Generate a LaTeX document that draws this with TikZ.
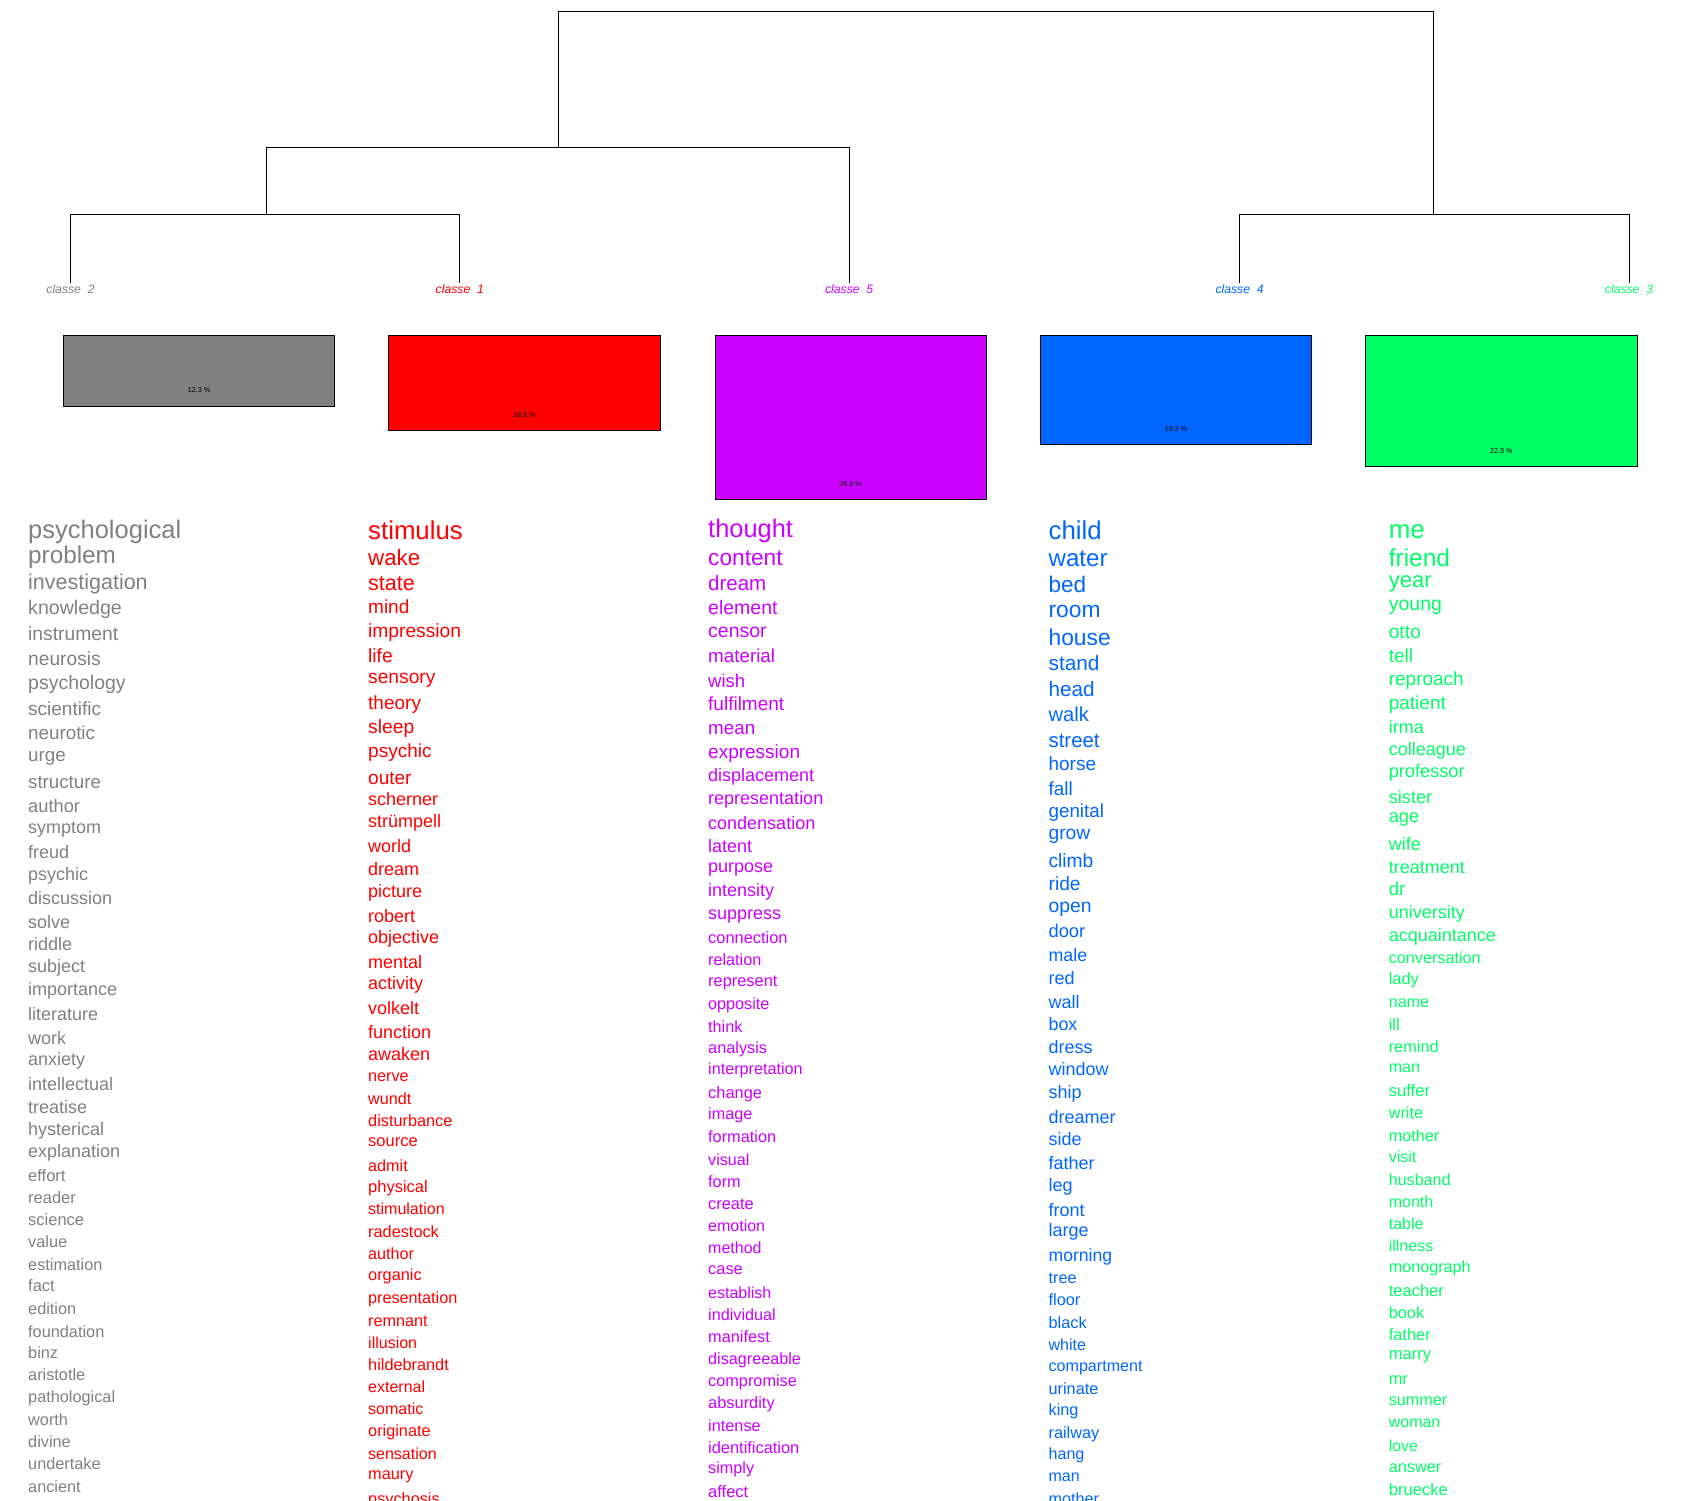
\documentclass[tikz,border=0pt]{standalone}
\usepackage{fontspec}
\setmainfont{Liberation Sans}
\definecolor{cgray}{HTML}{808080}
\definecolor{cred}{HTML}{FF0000}
\definecolor{cpurple}{HTML}{CC00FF}
\definecolor{cblue}{HTML}{0066FF}
\definecolor{cgreen}{HTML}{00FF66}
\begin{document}
\begin{tikzpicture}[x=1pt,y=-1pt,
  word/.style={anchor=west, inner sep=0pt, text height=#1*0.716pt, text depth=0pt,
    font=\fontsize{#1}{#1}\selectfont},
  clslab/.style={inner sep=1pt, font=\fontsize{12.2}{12.2}\selectfont\itshape},
  clsbox/.style={draw=black, line width=0.8pt, anchor=north west, minimum width=271.5pt, inner sep=0pt},
  pct/.style={inner sep=0pt, text=black, font=\fontsize{7.2}{7.2}\selectfont},
  tree/.style={draw=black, line width=0.9pt}]
\useasboundingbox (0,0) rectangle (1700,1500);
\clip (0,0) rectangle (1700,1500);

% class labels
\node[clslab, text=cgray]   (lab2) at (70.5,289)  {classe\ \ 2};
\node[clslab, text=cred]    (lab1) at (459.8,289) {classe\ \ 1};
\node[clslab, text=cpurple] (lab5) at (849.2,289) {classe\ \ 5};
\node[clslab, text=cblue]   (lab4) at (1239.6,289) {classe\ \ 4};
\node[clslab, text=cgreen]  (lab3) at (1629,289)  {classe\ \ 3};

% dendrogram
\coordinate (m12) at (266.7,214.7);
\coordinate (m125) at (558.4,147.5);
\coordinate (m34) at (1433.3,214.7);
\coordinate (top) at (996,11.9);
\draw[tree] (lab2.north) |- (m12) -| (lab1.north);
\draw[tree] (m12) |- (m125) -| (lab5.north);
\draw[tree] (m125) |- (top) -| (m34);
\draw[tree] (lab4.north) |- (m34) -| (lab3.north);

% boxes
\node[clsbox, fill=cgray,   minimum height=70.5pt]  (box2) at (62.9,335) {};
\node[clsbox, fill=cred,    minimum height=95.4pt]  (box1) at (388.2,335) {};
\node[clsbox, fill=cpurple, minimum height=164.3pt] (box5) at (714.5,335) {};
\node[clsbox, fill=cblue,   minimum height=109.3pt] (box4) at (1039.8,335) {};
\node[clsbox, fill=cgreen,  minimum height=131.2pt] (box3) at (1365.1,335) {};
\node[pct] (p2) at ([yshift=16pt]box2.south) {12.3 \%};
\node[pct] (p1) at ([yshift=16pt]box1.south) {18.8 \%};
\node[pct] (p5) at ([yshift=16pt]box5.south) {26.8 \%};
\node[pct] (p4) at ([yshift=16pt]box4.south) {19.2 \%};
\node[pct] (p3) at ([yshift=16pt]box3.south) {22.9 \%};

% word lists
\foreach \wy/\ws/\wt [count=\i] in {
529/25.5/psychological, 555/24.3/problem, 582/21.5/investigation, 607/19.6/knowledge,
634/19.3/instrument, 659/19.2/neurosis, 683/19.5/psychology, 709/19/scientific,
733/18.8/neurotic, 754.6/18.8/urge, 781.7/18.7/structure, 805.6/18.3/author,
827.2/18/symptom, 852.2/18/freud, 873.9/18/psychic, 897.7/18/discussion,
921.6/18/solve, 944.3/18/riddle, 966/18/subject, 988.8/18/importance,
1013.7/18/literature, 1037.6/18/work, 1059.3/18/anxiety, 1084.2/18/intellectual,
1107/18/treatise, 1128.7/18/hysterical, 1151.4/18/explanation, 1175.3/16.5/effort,
1198/16.5/reader, 1219.7/16.5/science, 1241.4/16.3/value, 1264.2/16.3/estimation,
1285.9/16.5/fact, 1308.6/16.3/edition, 1331.4/16.3/foundation, 1353.1/16.3/binz,
1374.8/16.3/aristotle, 1396.4/16.3/pathological, 1419.2/16.3/worth, 1442/16.3/divine,
1463.7/16.3/undertake, 1486.4/16.3/ancient}
  \node[word=\ws, text=cgray] (g\i) at (28,\wy) {\wt};

\foreach \wy/\ws/\wt [count=\i] in {
530/25.8/stimulus, 557.4/22.3/wake, 582.9/21.5/state, 607.1/19/mind,
630.7/19.2/impression, 656/19.2/life, 676.7/19.2/sensory, 702.2/19/theory,
726.4/19.3/sleep, 750.6/19/psychic, 777.4/19/outer, 799/18/scherner,
820.8/18/strümpell, 846.3/18/world, 868.6/18/dream, 891/18/picture,
915.8/18/robert, 937.5/18/objective, 962.4/18/mental, 983.4/18/activity,
1008.3/18/volkelt, 1031.9/18/function, 1053.6/18/awaken, 1075.3/16.2/nerve,
1098.2/16.2/wundt, 1120.5/16.3/disturbance, 1140.9/16.5/source, 1165.2/16.2/admit,
1186.2/16.5/physical, 1209.2/16/stimulation, 1231.5/16.3/radestock, 1253.8/16.2/author,
1274.9/16.3/organic, 1297.2/16.2/presentation, 1320.8/16.2/remnant, 1343.1/16/illusion,
1364.8/16.3/hildebrandt, 1387.1/16/external, 1408.8/16/somatic, 1430.5/16.3/originate,
1454/16/sensation, 1473.2/16.3/maury, 1499/16.3/psychosis}
  \node[word=\ws, text=cred] (r\i) at (368,\wy) {\wt};

\foreach \wy/\ws/\wt [count=\i] in {
528.7/25.4/thought, 557.4/22.7/content, 582.9/20.5/dream, 607.1/19.5/element,
630.7/19.5/censor, 656.2/18.8/material, 681.1/18.5/wish, 704.1/19/fulfilment,
727.7/18.8/mean, 751.9/19/expression, 775.5/18/displacement, 797.8/18/representation,
822.7/18/condensation, 846.3/18/latent, 866.1/18/purpose, 890.3/18/intensity,
912.6/18/suppress, 938.1/16.4/connection, 959.8/16.2/relation, 980.9/16.4/represent,
1003.2/16.2/opposite, 1026.8/16.2/think, 1047.2/16.3/analysis, 1068.9/16.2/interpretation,
1092.5/16.4/change, 1114.1/16.2/image, 1136.5/16.3/formation, 1159.4/16.1/visual,
1181.8/16.3/form, 1204.1/16.4/create, 1225.8/16/emotion, 1247.4/16/method,
1269.1/16.4/case, 1292.7/16/establish, 1314.4/16.2/individual, 1336.7/16.3/manifest,
1358.4/16.2/disagreeable, 1380.7/16.3/compromise, 1402.4/16.4/absurdity, 1425.4/16.3/intense,
1447.7/16.4/identification, 1468.1/16.2/simply, 1491.1/16.5/affect}
  \node[word=\ws, text=cpurple] (v\i) at (708,\wy) {\wt};

\foreach \wy/\ws/\wt [count=\i] in {
530/25.8/child, 557.4/24.1/water, 584.2/22.5/bed, 609.7/22.8/room,
637.1/22.8/house, 663.3/20.8/stand, 689.4/20.7/head, 714.3/20.2/walk,
739.8/20.4/street, 764/19/horse, 788.3/19/fall, 810.6/18.8/genital,
832.9/19.2/grow, 860.3/19.2/climb, 883.9/19.2/ride, 905.6/19.3/open,
931.1/18.3/door, 954.7/17.8/male, 978.3/18/red, 1001.9/18/wall,
1024.2/17.8/box, 1047.2/18/dress, 1069.5/18/window, 1091.8/18/ship,
1116.7/18/dreamer, 1139/18/side, 1163.3/18/father, 1185/18/leg,
1209.8/18/front, 1230.2/18/large, 1255.1/17.6/morning, 1278/16.2/tree,
1299.7/16.3/floor, 1322.7/16.3/black, 1345/16/white, 1365.4/16.1/compartment,
1388.4/16.3/urinate, 1410.1/16.3/king, 1432.4/16.3/railway, 1454.1/16.1/hang,
1475.8/16/man, 1499/16.2/mother}
  \node[word=\ws, text=cblue] (b\i) at (1048.4,\wy) {\wt};

\foreach \wy/\ws/\wt [count=\i] in {
528.7/26/me, 557.4/24.5/friend, 579.7/22/year, 604/19.5/young,
632/19.2/otto, 655.6/19/tell, 678.6/19/reproach, 702.8/19/patient,
727/18/irma, 748.7/18/colleague, 771/18.2/professor, 796.6/18.2/sister,
816.3/18.2/age, 844.4/18/wife, 866.7/18/treatment, 889/18.5/dr,
912/18/university, 935/18/acquaintance, 957.9/16.2/conversation, 979/16.4/lady,
1001.3/16.1/name, 1024.9/16.5/ill, 1046.6/16.3/remind, 1066.3/16/man,
1090.6/16.6/suffer, 1112.9/16.2/write, 1135.2/16.2/mother, 1156.9/16/visit,
1179.8/16.1/husband, 1201.5/16/month, 1223.9/16/table, 1246.2/16/illness,
1266.6/16.2/monograph, 1290.8/16.5/teacher, 1312.5/16.3/book, 1334.2/16.4/father,
1353.3/16.6/marry, 1378.2/16.4/mr, 1399.9/16.2/summer, 1422.2/16/woman,
1445.8/15.8/love, 1466.2/16.3/answer, 1489.8/16.6/bruecke}
  \node[word=\ws, text=cgreen] (n\i) at (1388.6,\wy) {\wt};
\end{tikzpicture}
\end{document}
